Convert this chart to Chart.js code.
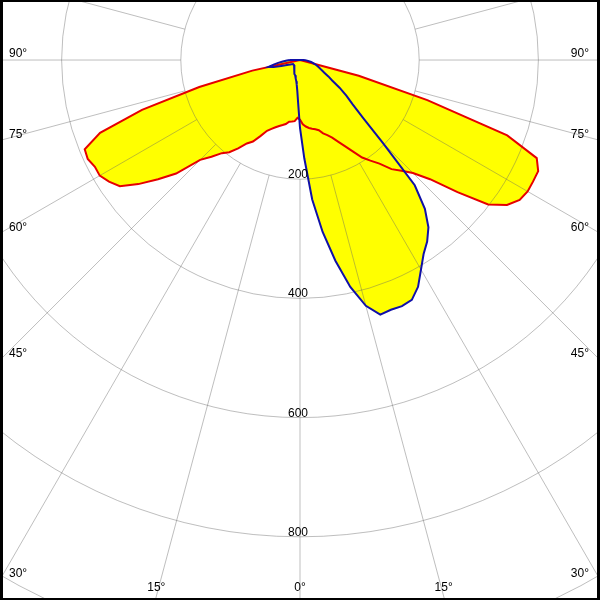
<!DOCTYPE html>
<html>
<head>
<meta charset="utf-8">
<script src="https://cdn.jsdelivr.net/npm/chart.js@4.4.0/dist/chart.umd.min.js"></script>
<style>
  html, body { margin: 0; padding: 0; background: #fff; }
  #wrap { width: 600px; height: 600px; }
</style>
</head>
<body>
<div id="wrap"><canvas id="polar" width="600" height="600"></canvas></div>
<script>
// Polar light distribution (cd/klm), gamma measured from nadir

var gammaDeg = [0, 2.5, 5, 7.5, 10, 12.5, 15, 17.5, 20, 22.5, 25, 27.5, 30, 32.5, 35, 37.5, 40, 42.5, 45,
    47.5, 50, 52.5, 55, 57.5, 60, 62.5, 65, 67.5, 70, 72.5, 75, 77.5, 80, 82.5, 85, 87.5, 90];

// C0 / C180 plane (red)
var redRight = [100, 108, 112, 115, 117, 119, 122, 129, 134, 141, 151, 163, 177, 194, 206, 219, 239, 252, 268,
    296, 345, 398, 424, 437, 441, 441, 441, 430, 370, 224, 102, 0, 0, 0, 0, 0, 0];
var redLeft = [100, 97, 103, 104, 105, 110, 113, 116, 120, 125, 131, 144, 158, 166, 181, 195, 204, 220, 237,
    282, 311, 342, 369, 380, 388, 388, 393, 391, 357, 278, 175, 82, 0, 0, 0, 0, 0];

// C90 / C270 plane (blue)
var blueRight = [114, 165, 235, 291, 342, 390, 427, 448, 446, 447, 444, 429, 406, 386, 372, 354, 326, 285, 197,
    143, 115, 98, 81, 64, 55, 46, 40, 36, 32, 29, 25, 22, 19, 15, 12, 9, 6];
var blueLeft = [114, 72, 52, 42, 36, 32, 29, 27, 25, 23, 22, 20, 19, 18, 17, 16, 15, 14, 14,
    13, 13, 13, 13, 13, 13.5, 15, 18, 21, 26, 33, 46, 54, 45, 37, 29, 22, 17];

// grid
var ringValues = [200, 400, 600, 800, 1000];
var ringLabels = ['200', '400', '600', '800'];
var spokeAngles = [];
for (var s = -180; s <= 180; s += 15) spokeAngles.push(s);
var angleLabels = [90, 75, 60, 45, 30, 15];

// build a closed outline: left side from 90 down to 0, then right side from 0 up to 90
function toPoints(left, right) {
    var pts = [];
    for (var i = gammaDeg.length - 1; i >= 0; i--) {
        var a = gammaDeg[i] * Math.PI / 180;
        pts.push({ x: -left[i] * Math.sin(a), y: -left[i] * Math.cos(a) });
    }
    for (var j = 1; j < gammaDeg.length; j++) {
        var b = gammaDeg[j] * Math.PI / 180;
        pts.push({ x: right[j] * Math.sin(b), y: -right[j] * Math.cos(b) });
    }
    pts.push(pts[0]);
    return pts;
}

// grid rings/spokes (over fills, under lines) and the labels
var polarGrid = {
    id: 'polarGrid',
    beforeDatasetsDraw: function (chart) {
        var ctx = chart.ctx, area = chart.chartArea;
        var xs = chart.scales.x, ys = chart.scales.y;
        var cx = xs.getPixelForValue(0), cy = ys.getPixelForValue(0);
        ctx.save();
        ctx.beginPath();
        ctx.rect(area.left, area.top, area.right - area.left, area.bottom - area.top);
        ctx.clip();
        ctx.strokeStyle = 'rgba(100,100,100,0.42)';
        ctx.lineWidth = 1;
        ringValues.forEach(function (v) {
            var rx = xs.getPixelForValue(v) - cx;
            var ry = ys.getPixelForValue(-v) - cy;
            ctx.beginPath();
            ctx.ellipse(cx, cy, rx, ry, 0, 0, Math.PI * 2);
            ctx.stroke();
        });
        spokeAngles.forEach(function (g) {
            var a = g * Math.PI / 180;
            var r0 = ringValues[0], r1 = 3000;
            ctx.beginPath();
            ctx.moveTo(xs.getPixelForValue(r0 * Math.sin(a)), ys.getPixelForValue(-r0 * Math.cos(a)));
            ctx.lineTo(xs.getPixelForValue(r1 * Math.sin(a)), ys.getPixelForValue(-r1 * Math.cos(a)));
            ctx.stroke();
        });
        ctx.restore();
    },
    afterDatasetsDraw: function (chart) {
        var ctx = chart.ctx, area = chart.chartArea;
        var xs = chart.scales.x, ys = chart.scales.y;
        var cx = xs.getPixelForValue(0), cy = ys.getPixelForValue(0);
        ctx.save();
        ctx.fillStyle = '#000';
        ctx.font = '12px "Liberation Sans", Arial, sans-serif';
        ctx.textBaseline = 'middle';

        // angle labels where the spokes leave the frame
        angleLabels.forEach(function (g) {
            var a = g * Math.PI / 180;
            var sn = Math.sin(a), cs = Math.cos(a);
            var t = (cx - area.left) / sn;
            var yExit = cy + t * cs;
            [-1, 1].forEach(function (side) {
                if (yExit <= area.bottom) {
                    ctx.textAlign = side < 0 ? 'left' : 'right';
                    var xPos = side < 0 ? area.left + 9 : area.right - 11;
                    ctx.fillText(g + '°', xPos, yExit - 6);
                } else {
                    var tb = (area.bottom - cy) / cs;
                    ctx.textAlign = 'center';
                    ctx.fillText(g + '°', cx + side * tb * sn - side, area.bottom - 12);
                }
            });
        });
        ctx.textAlign = 'center';
        ctx.fillText('0°', cx, area.bottom - 12);

        // ring values on the nadir axis
        ctx.textBaseline = 'alphabetic';
        ringLabels.forEach(function (lbl) {
            var py = ys.getPixelForValue(-Number(lbl));
            ctx.fillText(lbl, cx - 2, py - 1);
        });

        // black frame
        ctx.fillStyle = '#000';
        ctx.fillRect(0, 0, chart.width, 2);
        ctx.fillRect(0, chart.height - 2, chart.width, 2);
        ctx.fillRect(0, 0, 3, chart.height);
        ctx.fillRect(chart.width - 3, 0, 3, chart.height);
        ctx.restore();
    }
};

var data = {
    datasets: [
        {
            label: 'C90 - C270',
            data: toPoints(blueLeft, blueRight),
            borderColor: '#1010a8',
            backgroundColor: '#ffff00',
            borderWidth: 2,
            fill: 'shape',
            pointRadius: 0,
            tension: 0
        },
        {
            label: 'C0 - C180',
            data: toPoints(redLeft, redRight),
            borderColor: '#e60000',
            backgroundColor: '#ffff00',
            borderWidth: 2,
            fill: 'shape',
            pointRadius: 0,
            tension: 0
        }
    ]
};

var config = {
    type: 'line',
    data: data,
    options: {
        responsive: false,
        animation: false,
        layout: { padding: 0 },
        scales: {
            x: { type: 'linear', display: false, min: -503.4, max: 503.4 },
            y: { type: 'linear', display: false, min: -906, max: 100.7 }
        },
        plugins: {
            filler: { drawTime: 'beforeDatasetsDraw' },
            legend: { display: false },
            tooltip: { enabled: false }
        }
    },
    plugins: [polarGrid]
};

var polarChart = new Chart(document.getElementById('polar'), config);
</script>
</body>
</html>
